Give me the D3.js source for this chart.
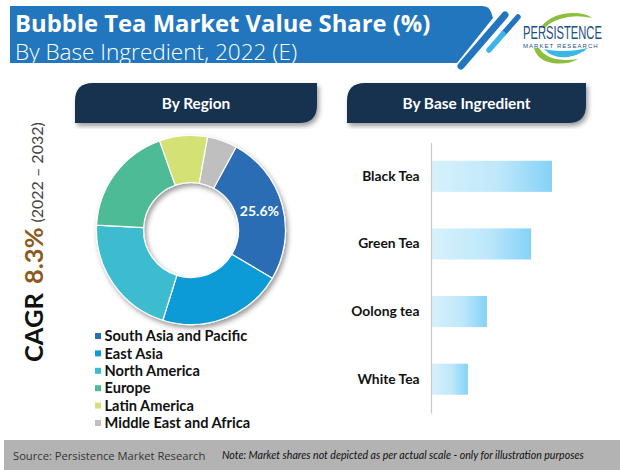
<!DOCTYPE html>
<html>
<head>
<meta charset="utf-8">
<style>
    html, body { margin: 0; padding: 0; background: #fff; }
    svg { display: block; }
    text { font-family: Lato, "Open Sans", sans-serif; }
</style>
<script src="https://cdn.jsdelivr.net/npm/d3@7"></script>
</head>
<body>
<svg id="chart" width="620" height="470"></svg>
<script>
// ===== values =====
const regions = ['South Asia and Pacific', 'East Asia', 'North America', 'Europe', 'Latin America', 'Middle East and Africa'];
const regionShares = [25.6, 21.3, 21.0, 18.8, 8.2, 5.1];
const regionColors = ['#2a6db5', '#0f9bd7', '#3dbccf', '#4dbb95', '#d3e174', '#bfbfbf'];
const labelledRegions = ['South Asia and Pacific'];

const ingredients = ['Black Tea', 'Green Tea', 'Oolong tea', 'White Tea'];
// no axis in the source, these are bar lengths in relative units
const ingredientValues = [40, 33.1, 18.5, 12.2];

const svg = d3.select('#chart');
const defs = svg.append('defs');

const shadow = defs.append('filter').attr('id', 'soft-shadow')
    .attr('x', '-10%').attr('y', '-10%').attr('width', '125%').attr('height', '125%');
shadow.append('feDropShadow').attr('dx', 2).attr('dy', 3).attr('stdDeviation', 2.5)
    .attr('flood-color', '#000').attr('flood-opacity', 0.4);

const barFill = defs.append('linearGradient').attr('id', 'bar-fill');
barFill.append('stop').attr('offset', '0%').attr('stop-color', '#d8f1fc');
barFill.append('stop').attr('offset', '55%').attr('stop-color', '#bfe8fa');
barFill.append('stop').attr('offset', '100%').attr('stop-color', '#85d2f7');

// squeeze a text sideways to a given width, the source uses narrower fonts
function fitWidth(sel, x, y, width) {
    const k = width / sel.node().getComputedTextLength();
    sel.attr('transform', `translate(${x},${y}) scale(${k},1)`);
}

// ---- header band ----
svg.append('path')
    .attr('d', 'M10,6 H482 Q489,6 491,12 L493,18 L457,63 H10 Z')
    .attr('fill', '#2176bd');
svg.append('line').attr('x1', 505).attr('y1', 15).attr('x2', 461).attr('y2', 66)
    .attr('stroke', '#2176bd').attr('stroke-width', 7).attr('stroke-linecap', 'round');
svg.append('line').attr('x1', 518).attr('y1', 17).attr('x2', 503).attr('y2', 34)
    .attr('stroke', '#2176bd').attr('stroke-width', 5.5).attr('stroke-linecap', 'round');
svg.append('line').attr('x1', 503).attr('y1', 34).attr('x2', 489).attr('y2', 50)
    .attr('stroke', '#3bb6e8').attr('stroke-width', 5.5).attr('stroke-linecap', 'round');

svg.append('text').attr('x', 15).attr('y', 32)
    .attr('fill', '#fff').attr('font-size', 23.8).attr('font-weight', 700)
    .style('font-family', '"Open Sans", sans-serif')
    .text('Bubble Tea Market Value Share (%)');
svg.append('text').attr('x', 15).attr('y', 60)
    .attr('fill', '#fff').attr('font-size', 22.6)
    .style('font-family', '"Open Sans", sans-serif').style('font-weight', 300)
    .text('By Base Ingredient, 2022 (E)');

// ---- logo ----
svg.append('path').attr('d', 'M541,27 Q552,13 573,13 Q586,13 592,18 Q574,14 560,19 Q550,22 545,28 Z').attr('fill', '#8dbf3f');
svg.append('path').attr('d', 'M534,48 Q537,60 552,63 Q568,65 578,59 Q556,62 546,55 Q541,52 539,48 Z').attr('fill', '#8dbf3f');
svg.append('path').attr('d', 'M544,49 Q553,59 568,57 Q580,55 588,48 Q575,51 565,51 Q553,51 544,49 Z').attr('fill', '#3bb6e8');
const logoName = svg.append('text')
    .attr('fill', '#1c4f82').attr('font-size', 18)
    .style('font-family', '"Liberation Sans Narrow", "Liberation Sans", sans-serif')
    .text('PERSISTENCE');
fitWidth(logoName, 523, 38.5, 79);
svg.append('text').attr('x', 523).attr('y', 47.5)
    .attr('fill', '#1c4f82').attr('font-size', 6).attr('letter-spacing', 1.05)
    .style('font-family', '"Liberation Sans", sans-serif')
    .text('MARKET RESEARCH');

// ---- panel titles, rounded top left and bottom right ----
function panel(x0, x1, label) {
    const y0 = 83, y1 = 123, r = 18;
    svg.append('path')
        .attr('d', `M${x0},${y1} V${y0 + r} Q${x0},${y0} ${x0 + r},${y0} H${x1} V${y1 - r} Q${x1},${y1} ${x1 - r},${y1} Z`)
        .attr('fill', '#14304f')
        .attr('filter', 'url(#soft-shadow)');
    svg.append('text').attr('x', (x0 + x1) / 2).attr('y', 109)
        .attr('text-anchor', 'middle').attr('fill', '#fff')
        .attr('font-size', 15.4).attr('font-weight', 700)
        .text(label);
}
panel(75, 317, 'By Region');
panel(347, 586, 'By Base Ingredient');

// ---- CAGR, rotated ----
function sideText(y, size, weight, color, label) {
    svg.append('text')
        .attr('transform', `translate(43,${y}) rotate(-90)`)
        .attr('font-size', size).attr('font-weight', weight).attr('fill', color)
        .text(label);
}
sideText(362, 25.5, 700, '#111', 'CAGR');
sideText(284, 25.5, 700, '#8a5a1e', '8.3%');
sideText(222.5, 16, 400, '#444', '(2022 – 2032)');

// ---- donut ----
const cx = 191, cy = 230;
const startDeg = 28.5;
const pie = d3.pie().sort(null)
    .startAngle(startDeg * Math.PI / 180)
    .endAngle((startDeg + 360) * Math.PI / 180);
const arc = d3.arc().innerRadius(47.5).outerRadius(94.5);
const arcs = pie(regionShares);

const donut = svg.append('g').attr('transform', `translate(${cx},${cy})`);
donut.append('g').attr('filter', 'url(#soft-shadow)')
    .selectAll('path').data(arcs).enter().append('path')
    .attr('d', arc)
    .attr('fill', (d, i) => regionColors[i])
    .attr('stroke', '#fff')
    .attr('stroke-width', 1.2);
donut.selectAll('text').data(arcs.filter((d, i) => labelledRegions.includes(regions[i]))).enter().append('text')
    .attr('transform', d => `translate(${arc.centroid(d)})`)
    .attr('text-anchor', 'middle').attr('dy', '0.36em')
    .attr('fill', '#fff').attr('font-size', 14).attr('font-weight', 700)
    .text(d => d.value.toFixed(1) + '%');

// ---- legend ----
const legendY = d3.scalePoint().domain(regions).range([336, 423]);
const legend = svg.append('g').selectAll('g').data(regions).enter().append('g')
    .attr('transform', d => `translate(95,${legendY(d)})`);
legend.append('rect').attr('y', -3).attr('width', 6).attr('height', 6)
    .attr('fill', (d, i) => regionColors[i]);
legend.append('text').attr('x', 9.5).attr('dy', '0.36em')
    .attr('fill', '#111').attr('font-size', 14.6).attr('font-weight', 700)
    .text(d => d);

// ---- bars ----
const x = d3.scaleLinear().domain([0, 40]).range([431, 552]);
const y = d3.scaleBand().domain(ingredients).range([142.5, 413]).paddingInner(0.54).paddingOuter(0.27);

svg.append('g').selectAll('rect').data(ingredients).enter().append('rect')
    .attr('x', x(0))
    .attr('y', d => y(d))
    .attr('width', (d, i) => x(ingredientValues[i]) - x(0))
    .attr('height', y.bandwidth())
    .attr('fill', 'url(#bar-fill)');

const yAxis = svg.append('g').attr('transform', `translate(${x(0)},0)`)
    .call(d3.axisLeft(y).tickSize(0).tickPadding(11.5));
yAxis.select('.domain').attr('stroke', '#c8c8c8').attr('stroke-width', 1.2);
yAxis.selectAll('text')
    .attr('fill', '#111').attr('font-size', 13.8).attr('font-weight', 700)
    .style('font-family', 'Lato, sans-serif');

// ---- footer ----
svg.append('rect').attr('x', 4).attr('y', 440).attr('width', 616).attr('height', 30).attr('fill', '#b3b3b3');
svg.append('text').attr('x', 13).attr('y', 459.5)
    .attr('fill', '#333').attr('font-size', 11.2)
    .style('font-family', '"Open Sans", sans-serif')
    .text('Source: Persistence Market Research');
const note = svg.append('text')
    .attr('fill', '#111').attr('font-size', 12).attr('font-style', 'italic')
    .style('font-family', 'Lato, sans-serif')
    .text('Note: Market shares not depicted as per actual scale - only for illustration purposes');
fitWidth(note, 222, 459, 362);
</script>
</body>
</html>
